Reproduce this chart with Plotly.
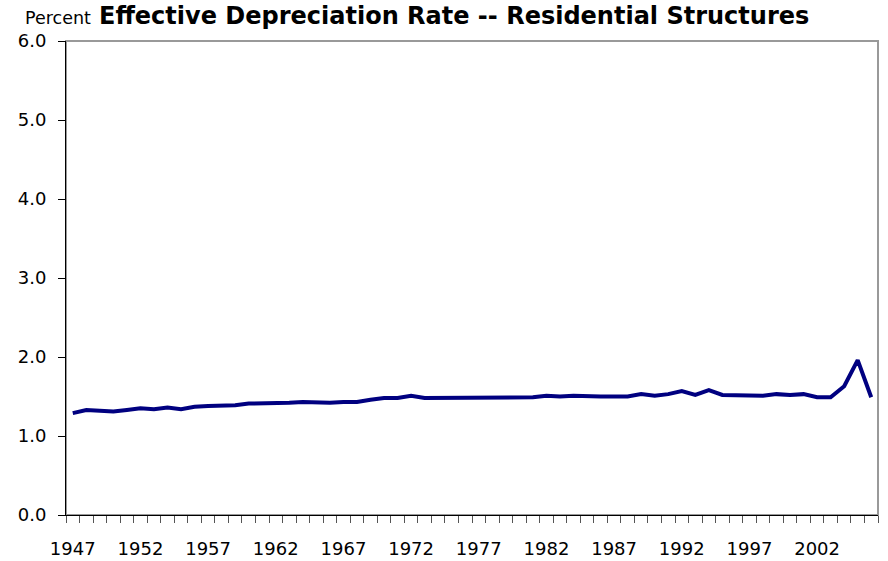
import plotly.graph_objects as go

years = list(range(1947, 2007))
rates = [1.29, 1.33, 1.32, 1.31, 1.33, 1.35, 1.34, 1.36, 1.34, 1.37,
         1.38, 1.38, 1.39, 1.41, 1.41, 1.41, 1.42, 1.43, 1.42, 1.42,
         1.43, 1.43, 1.46, 1.48, 1.48, 1.51, 1.48, 1.48, 1.49, 1.49,
         1.48, 1.49, 1.48, 1.48, 1.49, 1.51, 1.50, 1.51, 1.50, 1.50,
         1.50, 1.50, 1.53, 1.51, 1.53, 1.57, 1.52, 1.58, 1.52, 1.52,
         1.52, 1.51, 1.53, 1.52, 1.53, 1.49, 1.49, 1.63, 1.96, 1.49]
tick_years = list(range(1947, 2003, 5))
tick_labels = [str(y) for y in tick_years]
y_ticks = [0, 1, 2, 3, 4, 5, 6]

W, H = 888, 561
ML, MR, MT, MB = 66, 10, 41, 46
PW = W - ML - MR

FONT = "DejaVu Sans, Arial, sans-serif"

fig = go.Figure()
fig.add_trace(go.Scatter(x=years, y=rates, mode="lines",
                         line=dict(color="#000080", width=4), showlegend=False,
                         hoverinfo="x+y"))

fig.update_layout(
    width=W, height=H,
    margin=dict(l=ML, r=MR, t=MT, b=MB, autoexpand=False),
    paper_bgcolor="white", plot_bgcolor="white",
    font=dict(family=FONT, color="black"),
    xaxis=dict(range=[1946.5, 2006.5], tickvals=tick_years, ticktext=tick_labels,
               ticks="", ticklen=0, showgrid=False, zeroline=False,
               automargin=False,
               showline=True, linecolor="black", linewidth=1,
               tickfont=dict(size=18), ticklabelstandoff=17,
               minor=dict(tick0=1946.5, dtick=1, ticks="outside", ticklen=7,
                          tickcolor="#555555", showgrid=False)),
    yaxis=dict(range=[0, 6], tickvals=y_ticks, tickformat=".1f",
               ticks="outside", ticklen=7, tickcolor="black",
               showgrid=False, zeroline=False, automargin=False,
               showline=True, linecolor="black", linewidth=1,
               tickfont=dict(size=18), ticklabelstandoff=8),
    shapes=[dict(type="rect", xref="paper", yref="paper", x0=0, x1=1, y0=0, y1=1,
                 line=dict(color="#999999", width=2), layer="below")],
    annotations=[
        dict(text="<b>Effective Depreciation Rate -- Residential Structures</b>",
             xref="paper", yref="paper", x=(453.5 - ML) / PW, y=1,
             xanchor="center", yanchor="top", yshift=MT, showarrow=False,
             font=dict(size=24, family=FONT)),
        dict(text="Percent", xref="paper", yref="paper", x=(22.7 - ML) / PW, y=1,
             xanchor="left", yanchor="top", yshift=MT - 6, showarrow=False,
             font=dict(size=17.5, family=FONT)),
    ],
)

fig.write_html("out.html", config={"displayModeBar": False},
               post_script="document.body.style.margin='0px';")
